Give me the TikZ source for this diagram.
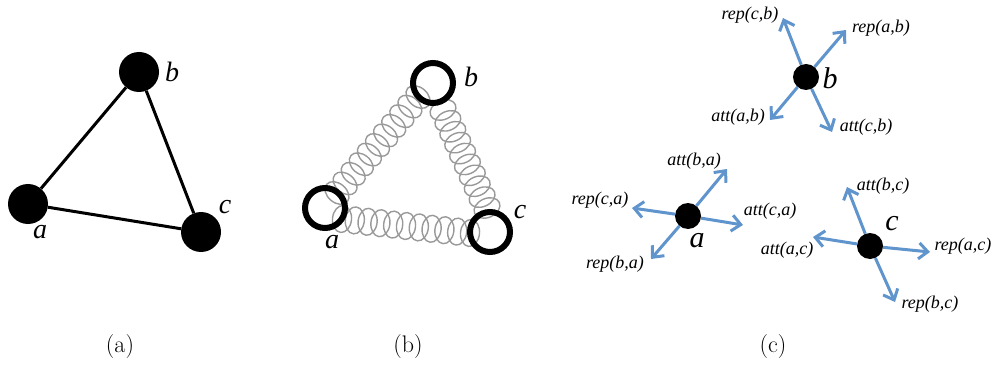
\documentclass[tikz,border=0pt]{standalone}
\usepackage{fontspec}
\newfontfamily\tms{Liberation Serif}
\usetikzlibrary{arrows.meta,calc}
\definecolor{arrblue}{RGB}{95,148,204}
\begin{document}
\begin{tikzpicture}[x=1pt,y=-1pt,
 bigdot/.style={circle,fill=black,minimum size=40pt,inner sep=0pt},
 ring/.style={circle,draw=black,line width=6pt,minimum size=40pt,inner sep=0pt},
 smalldot/.style={circle,fill=black,minimum size=26pt,inner sep=0pt},
 lbl/.style={font=\fontsize{28}{30}\selectfont\tms\itshape,inner sep=0pt},
 lblc/.style={font=\fontsize{30}{32}\selectfont\tms\itshape,inner sep=0pt},
 sl/.style={font=\fontsize{18}{20}\selectfont\tms\itshape,inner sep=0pt},
 captxt/.style={font=\fontsize{24}{28}\selectfont,inner sep=0pt},
 edgeline/.style={line width=3pt},
 spr/.style={draw=gray!80,line width=1.4pt},
 force/.style={draw=arrblue,line width=3pt,-{Straight Barb[length=9pt,width=16pt]}}
]
\useasboundingbox (0,0) rectangle (995,366);

% ---------- panel (a)
\node[bigdot] (a1) at (28,204) {};
\node[bigdot] (b1) at (139,72) {};
\node[bigdot] (c1) at (201,232) {};
\draw[edgeline] (a1) -- (b1);
\draw[edgeline] (b1) -- (c1);
\draw[edgeline] (a1) -- (c1);
\node[lbl] (la1) at (40,232) {a};
\node[lbl] (lb1) at (172,72) {b};
\node[lbl] (lc1) at (225,207) {c};
\node[captxt] (capa) at (120,347) {(a)};

% ---------- panel (b)
\coordinate (a2) at (325,208);
\coordinate (b2) at (433,83);
\coordinate (c2) at (490,232);
% spring end points
\coordinate (sab1) at (337,193);
\coordinate (sab2) at (418,97);
\coordinate (sac1) at (342,219);
\coordinate (sac2) at (470,233);
\coordinate (sbc1) at (443,110);
\coordinate (sbc2) at (487,208);
\foreach \t in {0,...,10} {
  \draw[spr, shift={($(sab1)!{\t/10}!(sab2)$)}, rotate=49.9]
     (0,0) ellipse[x radius=9.5pt, y radius=13.5pt];
  \draw[spr, shift={($(sac1)!{\t/10}!(sac2)$)}, rotate=-6.2]
     (0,0) ellipse[x radius=9.5pt, y radius=13.5pt];
}
\foreach \t in {0,...,9} {
  \draw[spr, shift={($(sbc1)!{\t/9}!(sbc2)$)}, rotate=-66.1]
     (0,0) ellipse[x radius=9.5pt, y radius=13.5pt];
}
\node[ring] (ra) at (a2) {};
\node[ring] (rb) at (b2) {};
\node[ring] (rc) at (c2) {};
\node[lbl] (la2) at (332,242) {a};
\node[lbl] (lb2) at (471,77) {b};
\node[lbl] (lc2) at (520,212) {c};
\node[captxt] (capb) at (408,347) {(b)};

% ---------- panel (c)
\node[smalldot] (bc) at (806,77) {};
\node[smalldot] (ac) at (688,216) {};
\node[smalldot] (cc) at (870,246) {};
\node[lblc] (lb3) at (830,78) {b};
\node[lblc] (la3) at (697,241) {a};
\node[lblc] (lc3) at (892,224) {c};

\coordinate (tb1) at (783,18);
\coordinate (tb2) at (846,30);
\coordinate (tb3) at (770,120);
\coordinate (tb4) at (832,132);
\draw[force] (bc) -- (tb1);
\draw[force] (bc) -- (tb2);
\draw[force] (bc) -- (tb3);
\draw[force] (bc) -- (tb4);
\node[sl] (s1) at (750,15) {rep(c,b)};
\node[sl] (s2) at (881,28) {rep(a,b)};
\node[sl] (s3) at (738,117) {att(a,b)};
\node[sl] (s4) at (866,127) {att(c,b)};

\coordinate (ta1) at (727,169);
\coordinate (ta2) at (632,208);
\coordinate (ta3) at (743,225);
\coordinate (ta4) at (651,259);
\draw[force] (ac) -- (ta1);
\draw[force] (ac) -- (ta2);
\draw[force] (ac) -- (ta3);
\draw[force] (ac) -- (ta4);
\node[sl] (s5) at (694,161) {att(b,a)};
\node[sl] (s6) at (600,200) {rep(c,a)};
\node[sl] (s7) at (770,211) {att(c,a)};
\node[sl] (s8) at (615,264) {rep(b,a)};

\coordinate (tc1) at (847,187);
\coordinate (tc2) at (813,237);
\coordinate (tc3) at (930,252);
\coordinate (tc4) at (895,302);
\draw[force] (cc) -- (tc1);
\draw[force] (cc) -- (tc2);
\draw[force] (cc) -- (tc3);
\draw[force] (cc) -- (tc4);
\node[sl] (s9) at (883,186) {att(b,c)};
\node[sl] (s10) at (787,250) {att(a,c)};
\node[sl] (s11) at (963,246) {rep(a,c)};
\node[sl] (s12) at (930,304) {rep(b,c)};

\node[captxt] (capc) at (773,347) {(c)};
\end{tikzpicture}
\end{document}
